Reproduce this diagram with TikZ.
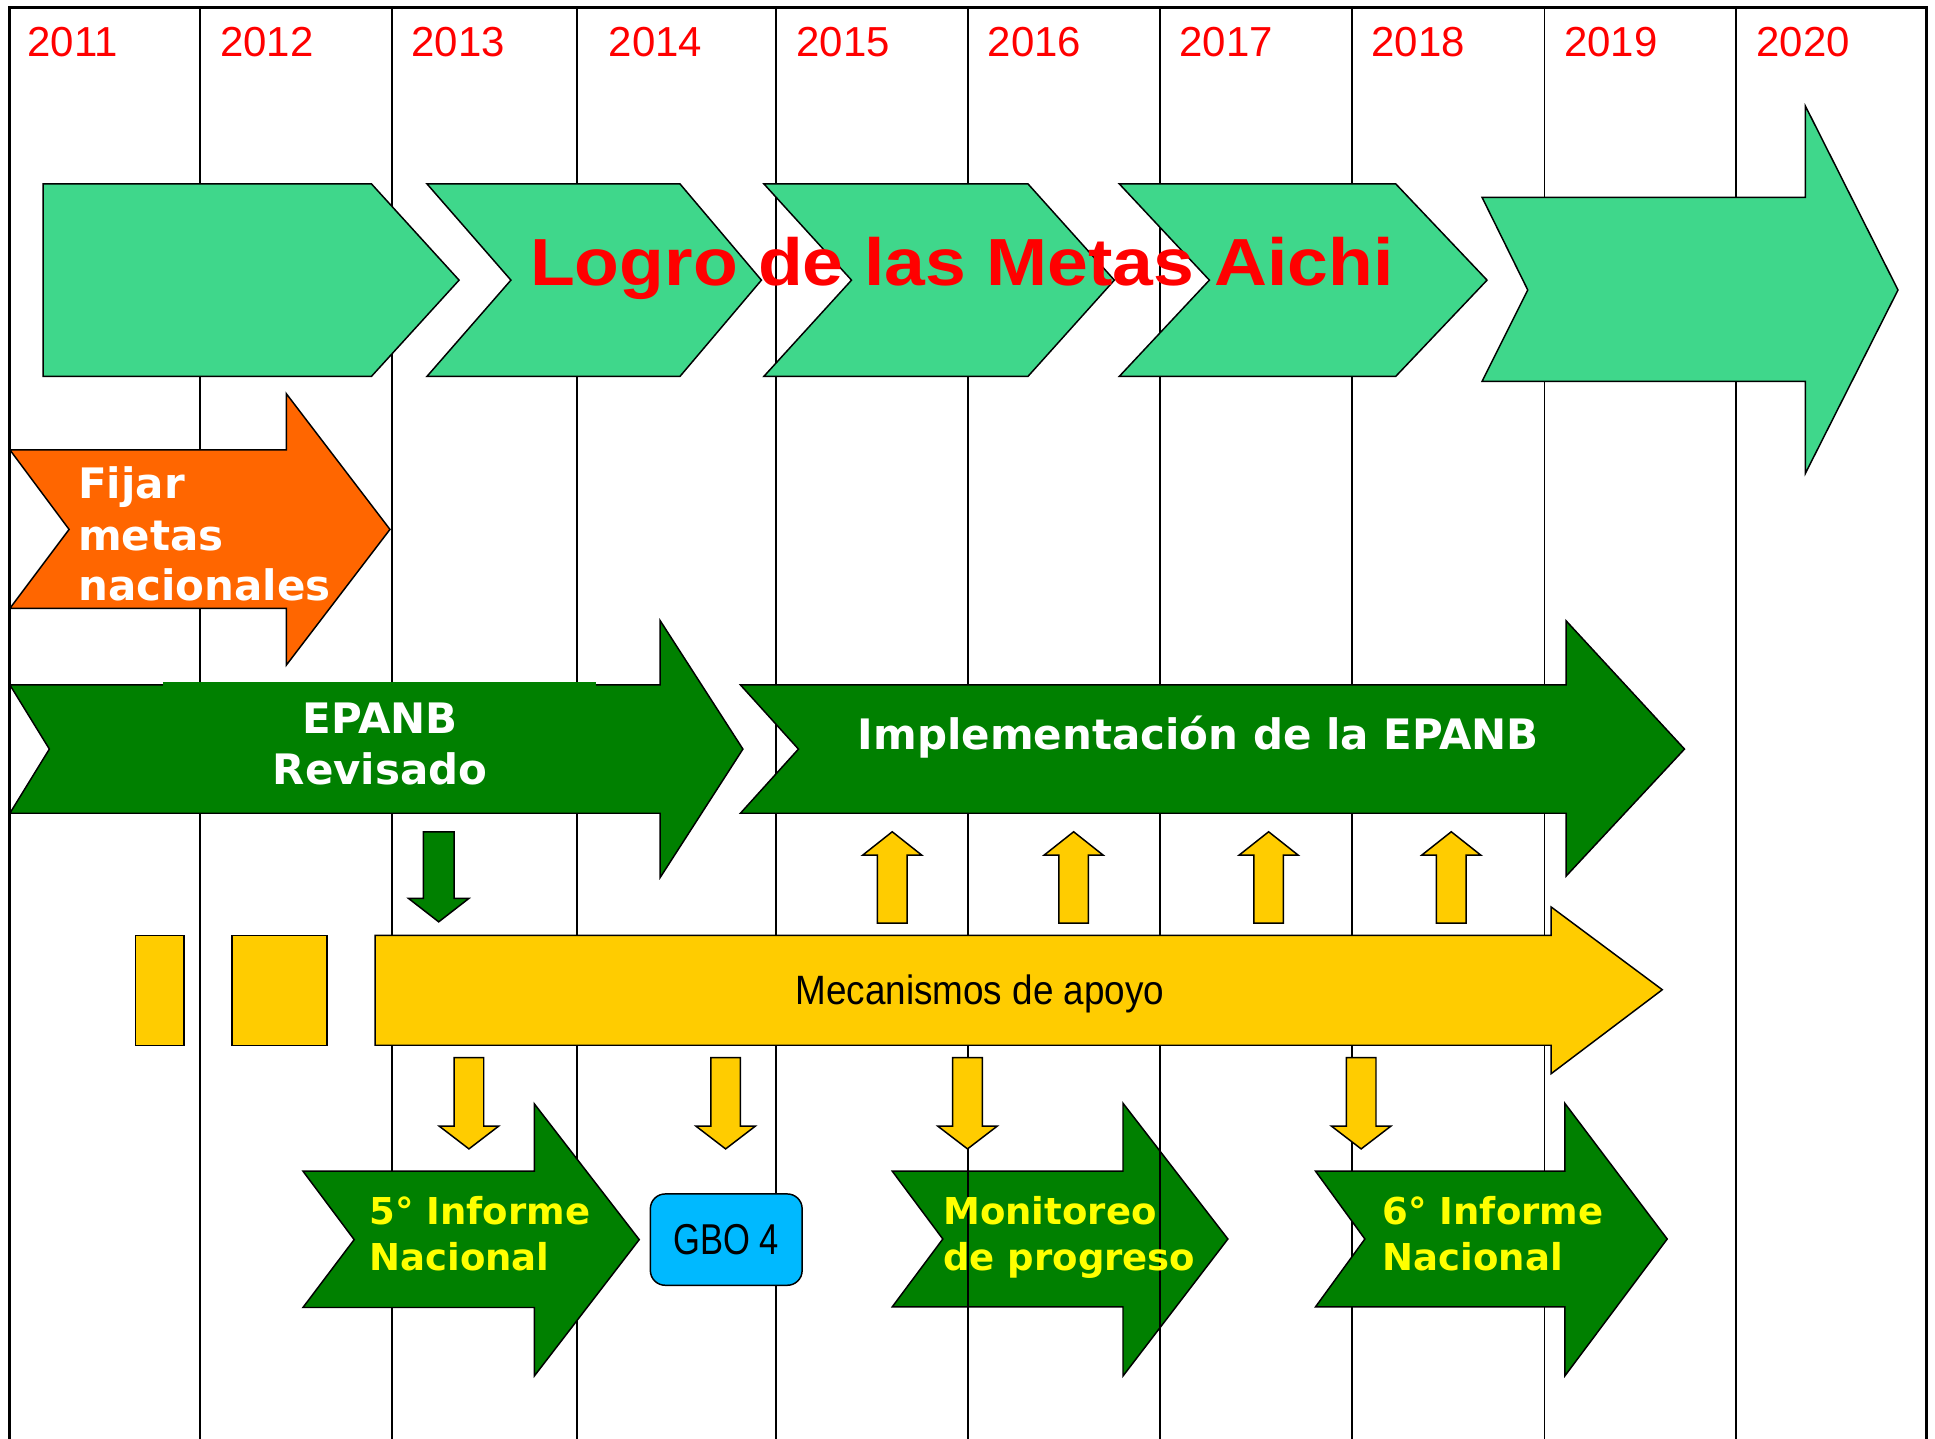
\documentclass[tikz,border=0pt]{standalone}
\usepackage{fontspec}
\setmainfont{Liberation Sans}
\newfontfamily\yearfont{Liberation Sans}
\newfontfamily\titlefont[FakeStretch=1.1]{Liberation Sans}
\newfontfamily\verdfont{DejaVu Sans}
\newfontfamily\narrowfont[FakeStretch=0.9]{Liberation Sans}
\newfontfamily\gbofont[FakeStretch=0.8]{Liberation Sans}
\definecolor{lgreen}{RGB}{63,215,139}
\definecolor{dgreen}{RGB}{0,128,0}
\definecolor{orng}{RGB}{255,102,0}
\definecolor{yel}{RGB}{255,204,0}
\definecolor{txtyel}{RGB}{255,255,0}
\definecolor{gboblue}{RGB}{0,185,255}
\newcommand{\vblock}[5]{% cx, ytip, yhead, yend, fill
  \draw[outl, fill=#5] (#1-12,#4) -- (#1-12,#3) -- (#1-24,#3) -- (#1,#2) -- (#1+24,#3) -- (#1+12,#3) -- (#1+12,#4) -- cycle;}
\begin{document}
\begin{tikzpicture}[x=0.5pt,y=-0.5pt,
  outl/.style={draw=black, line width=0.6pt, line join=miter},
  gridline/.style={draw=black, line width=0.75pt},
  yeartxt/.style={anchor=base west, inner sep=0pt, text=red, font=\yearfont\fontsize{17}{20}\selectfont},
  whitetxt/.style={inner sep=0pt, text=white, font=\verdfont\bfseries\fontsize{17}{20}\selectfont},
  yeltxt/.style={anchor=base west, inner sep=0pt, text=txtyel, font=\verdfont\bfseries\fontsize{15}{18}\selectfont}
]
\useasboundingbox (0,0) rectangle (1568,1166);

% Monitoreo arrow lies under the grid lines
\draw[outl, fill=dgreen] (723,949) -- (910,949) -- (910,894) -- (995,1004) -- (910,1115) -- (910,1059) -- (723,1059) -- (764,1004) -- cycle;

% grid and frame
\foreach \gx in {162,317.6,467.4,629,784.4,940,1095.5,1251.5,1407}
  \draw[gridline] (\gx,6) -- (\gx,1166);
\draw[line width=1.2pt] (7.6,1166) -- (7.6,6) -- (1561,6) -- (1561,1166);

% years
\node[yeartxt] (y2011) at (22,46) {2011};
\node[yeartxt] (y2012) at (178,46) {2012};
\node[yeartxt] (y2013) at (333,46) {2013};
\node[yeartxt] (y2014) at (493,46) {2014};
\node[yeartxt] (y2015) at (645,46) {2015};
\node[yeartxt] (y2016) at (800,46) {2016};
\node[yeartxt] (y2017) at (955.5,46) {2017};
\node[yeartxt] (y2018) at (1111,46) {2018};
\node[yeartxt] (y2019) at (1267,46) {2019};
\node[yeartxt] (y2020) at (1423,46) {2020};

% Aichi chevrons
\draw[outl, fill=lgreen] (35,149) -- (301,149) -- (372,227) -- (301,305) -- (35,305) -- cycle;
\draw[outl, fill=lgreen] (346,149) -- (551,149) -- (617,227) -- (551,305) -- (346,305) -- (414,227) -- cycle;
\draw[outl, fill=lgreen] (619,149) -- (833,149) -- (903,227) -- (833,305) -- (619,305) -- (690,227) -- cycle;
\draw[outl, fill=lgreen] (907,149) -- (1131,149) -- (1205,227) -- (1131,305) -- (907,305) -- (980,227) -- cycle;
\draw[outl, fill=lgreen] (1201,160) -- (1463,160) -- (1463,86) -- (1538,235) -- (1463,383.5) -- (1463,309) -- (1201,309) -- (1238,235) -- cycle;
\node[anchor=base, inner sep=0pt, text=red, font=\titlefont\bfseries\fontsize{27}{30}\selectfont] (title) at (779.5,231.5) {Logro de las Metas Aichi};

% Fijar metas nacionales
\draw[outl, fill=orng] (8,364.5) -- (232,364.5) -- (232,319) -- (316,429) -- (232,539) -- (232,493) -- (8,493) -- (56,429) -- cycle;
\node[whitetxt, anchor=base west] (fij1) at (63,403.7) {Fijar};
\node[whitetxt, anchor=base west] (fij2) at (63,445.7) {metas};
\node[whitetxt, anchor=base west] (fij3) at (63,486.8) {nacionales};

% EPANB Revisado
\draw[outl, fill=dgreen] (8,555) -- (535,555) -- (535,503) -- (602,607) -- (535,711) -- (535,659) -- (8,659) -- (40,607) -- cycle;
\fill[dgreen] (132,552.5) rectangle (483,600);
\node[whitetxt, anchor=base] (epa1) at (308,594) {EPANB};
\node[whitetxt, anchor=base] (epa2) at (308,635.4) {Revisado};

% Implementacion
\draw[outl, fill=dgreen] (600,555) -- (1269,555) -- (1269,503) -- (1365,607) -- (1269,710) -- (1269,659) -- (600,659) -- (647,607) -- cycle;
\node[whitetxt, anchor=base] (impl) at (971,607) {Implementación de la EPANB};

% small arrows
\draw[outl, fill=dgreen] (343,674) -- (343,728) -- (331,728) -- (355.5,747) -- (380,728) -- (368,728) -- (368,674) -- cycle;
\vblock{723}{674}{693}{748}{yel}
\vblock{870}{674}{693}{748}{yel}
\vblock{1028}{674}{693}{748}{yel}
\vblock{1176}{674}{693}{748}{yel}

% Mecanismos de apoyo
\draw[outl, fill=yel] (110,758) rectangle (149,847);
\draw[outl, fill=yel] (188,758) rectangle (265,847);
\draw[outl, fill=yel] (304,758) -- (1257,758) -- (1257,735) -- (1347,802) -- (1257,870) -- (1257,847) -- (304,847) -- cycle;
\node[anchor=base, inner sep=0pt, font=\narrowfont\fontsize{16.6}{19}\selectfont] (meca) at (794,814) {Mecanismos de apoyo};

\vblock{380}{931}{912.6}{857}{yel}
\vblock{588}{931}{912.6}{857}{yel}
\vblock{784}{931}{912.6}{857}{yel}
\vblock{1103}{931}{912.6}{857}{yel}

% 5o Informe Nacional
\draw[outl, fill=dgreen] (245.5,949) -- (433,949) -- (433,894.5) -- (518,1004.5) -- (433,1115) -- (433,1059.5) -- (245.5,1059.5) -- (287,1004.5) -- cycle;
\node[yeltxt] (inf5a) at (299,992.5) {5° Informe};
\node[yeltxt] (inf5b) at (299,1029.3) {Nacional};

% GBO 4
\node[outl, fill=gboblue, rounded corners=6pt, minimum width=61.5pt, minimum height=37pt, inner sep=0pt, font=\gbofont\fontsize{17.5}{20}\selectfont] (gbo) at (588.5,1004.5) {GBO 4};

% Monitoreo text
\node[yeltxt] (mon1) at (764,992.5) {Monitoreo};
\node[yeltxt] (mon2) at (764,1029.3) {de progreso};

% 6o Informe Nacional
\draw[outl, fill=dgreen] (1066,949) -- (1268,949) -- (1268,894) -- (1351,1004) -- (1268,1115) -- (1268,1059) -- (1066,1059) -- (1106,1004) -- cycle;
\node[yeltxt] (inf6a) at (1120,992.5) {6° Informe};
\node[yeltxt] (inf6b) at (1120,1029.3) {Nacional};
\end{tikzpicture}
\end{document}
